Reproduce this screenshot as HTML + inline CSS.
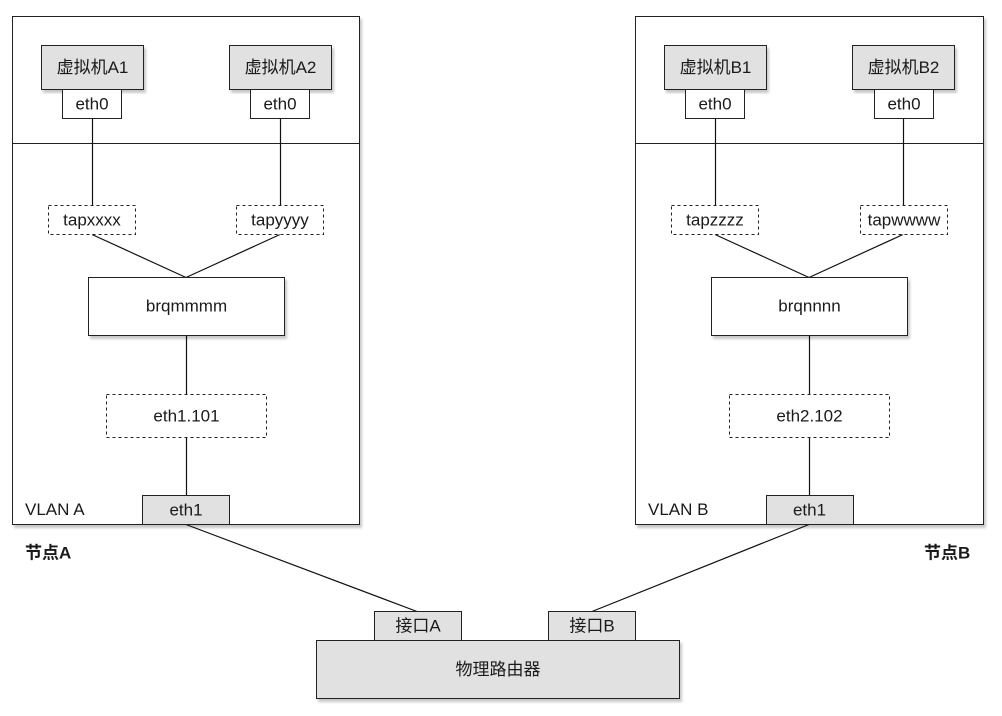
<!DOCTYPE html>
<html>
<head>
<meta charset="utf-8">
<style>
  html,body{margin:0;padding:0;background:#fff;}
  svg{display:block;}
  text{font-family:"Liberation Sans","Noto Sans CJK SC",sans-serif;font-size:17px;fill:#1a1a1a;}
  .b{font-weight:bold;}
</style>
</head>
<body>
<svg width="1002" height="716" viewBox="0 0 1002 716" xmlns="http://www.w3.org/2000/svg">
  <defs>
    <filter id="sh" x="-5%" y="-5%" width="115%" height="115%">
      <feGaussianBlur in="SourceAlpha" stdDeviation="1.2"/>
      <feOffset dx="2" dy="3" result="o"/>
      <feComponentTransfer><feFuncA type="linear" slope="0.22"/></feComponentTransfer>
      <feMerge><feMergeNode/><feMergeNode in="SourceGraphic"/></feMerge>
    </filter>
  </defs>

  <!-- Left panel -->
  <rect x="12.5" y="16.5" width="347" height="508" fill="#fff" stroke="#222" stroke-width="1" filter="url(#sh)"/>
  <line x1="12.5" y1="143.5" x2="359.5" y2="143.5" stroke="#222"/>

  <!-- Right panel -->
  <rect x="635.5" y="16.5" width="348" height="508" fill="#fff" stroke="#222" stroke-width="1" filter="url(#sh)"/>
  <line x1="635.5" y1="143.5" x2="983.5" y2="143.5" stroke="#222"/>

  <!-- Connectors -->
  <g stroke="#111" stroke-width="1.2" fill="none">
    <line x1="92.5" y1="118" x2="92.5" y2="205"/>
    <line x1="280.5" y1="118" x2="280.5" y2="205"/>
    <line x1="92" y1="234.5" x2="186" y2="277.5"/>
    <line x1="280" y1="234.5" x2="186" y2="277.5"/>
    <line x1="186.5" y1="335" x2="186.5" y2="394"/>
    <line x1="186.5" y1="438" x2="186.5" y2="495"/>
    <line x1="186" y1="524.5" x2="417" y2="611.5"/>
    <line x1="715.5" y1="118" x2="715.5" y2="205"/>
    <line x1="903.5" y1="118" x2="903.5" y2="205"/>
    <line x1="715" y1="234.5" x2="809" y2="277.5"/>
    <line x1="903" y1="234.5" x2="809" y2="277.5"/>
    <line x1="809.5" y1="335" x2="809.5" y2="394"/>
    <line x1="809.5" y1="438" x2="809.5" y2="495"/>
    <line x1="809" y1="524.5" x2="592" y2="611.5"/>
  </g>

  <!-- Left VMs -->
  <rect x="41.5" y="45.5" width="102" height="44" fill="#e1e1e1" stroke="#222" filter="url(#sh)"/>
  <text x="92.5" y="67.5" text-anchor="middle" dominant-baseline="central">虚拟机A1</text>
  <rect x="62.5" y="89.5" width="59" height="29" fill="#fff" stroke="#222"/>
  <text x="92" y="104" text-anchor="middle" dominant-baseline="central">eth0</text>

  <rect x="229.5" y="45.5" width="102" height="44" fill="#e1e1e1" stroke="#222" filter="url(#sh)"/>
  <text x="280.5" y="67.5" text-anchor="middle" dominant-baseline="central">虚拟机A2</text>
  <rect x="250.5" y="89.5" width="59" height="29" fill="#fff" stroke="#222"/>
  <text x="280" y="104" text-anchor="middle" dominant-baseline="central">eth0</text>

  <rect x="48.5" y="205.5" width="87" height="29" fill="#fff" stroke="#222" stroke-dasharray="3 3"/>
  <text x="92" y="220" text-anchor="middle" dominant-baseline="central">tapxxxx</text>
  <rect x="236.5" y="205.5" width="87" height="29" fill="#fff" stroke="#222" stroke-dasharray="3 3"/>
  <text x="280" y="220" text-anchor="middle" dominant-baseline="central">tapyyyy</text>

  <rect x="88.5" y="277.5" width="196" height="58" fill="#fff" stroke="#222" filter="url(#sh)"/>
  <text x="186.5" y="306" text-anchor="middle" dominant-baseline="central">brqmmmm</text>

  <rect x="106.5" y="394.5" width="160" height="43" fill="#fff" stroke="#222" stroke-dasharray="3 3"/>
  <text x="186.5" y="416" text-anchor="middle" dominant-baseline="central">eth1.101</text>

  <rect x="142.5" y="495.5" width="87" height="29" fill="#e1e1e1" stroke="#222"/>
  <text x="186" y="510" text-anchor="middle" dominant-baseline="central">eth1</text>

  <text x="25" y="509.5" dominant-baseline="central">VLAN A</text>
  <text x="25" y="553" dominant-baseline="central" class="b">节点A</text>

  <!-- Right VMs -->
  <rect x="664.5" y="45.5" width="102" height="44" fill="#e1e1e1" stroke="#222" filter="url(#sh)"/>
  <text x="715.5" y="67.5" text-anchor="middle" dominant-baseline="central">虚拟机B1</text>
  <rect x="685.5" y="89.5" width="59" height="29" fill="#fff" stroke="#222"/>
  <text x="715" y="104" text-anchor="middle" dominant-baseline="central">eth0</text>

  <rect x="852.5" y="45.5" width="102" height="44" fill="#e1e1e1" stroke="#222" filter="url(#sh)"/>
  <text x="903.5" y="67.5" text-anchor="middle" dominant-baseline="central">虚拟机B2</text>
  <rect x="874.5" y="89.5" width="59" height="29" fill="#fff" stroke="#222"/>
  <text x="904" y="104" text-anchor="middle" dominant-baseline="central">eth0</text>

  <rect x="671.5" y="205.5" width="87" height="29" fill="#fff" stroke="#222" stroke-dasharray="3 3"/>
  <text x="715" y="220" text-anchor="middle" dominant-baseline="central">tapzzzz</text>
  <rect x="860.5" y="205.5" width="87" height="29" fill="#fff" stroke="#222" stroke-dasharray="3 3"/>
  <text x="904" y="220" text-anchor="middle" dominant-baseline="central">tapwwww</text>

  <rect x="711.5" y="277.5" width="196" height="58" fill="#fff" stroke="#222" filter="url(#sh)"/>
  <text x="809.5" y="306" text-anchor="middle" dominant-baseline="central">brqnnnn</text>

  <rect x="729.5" y="394.5" width="160" height="43" fill="#fff" stroke="#222" stroke-dasharray="3 3"/>
  <text x="809.5" y="416" text-anchor="middle" dominant-baseline="central">eth2.102</text>

  <rect x="766.5" y="495.5" width="87" height="29" fill="#e1e1e1" stroke="#222"/>
  <text x="809.5" y="510" text-anchor="middle" dominant-baseline="central">eth1</text>

  <text x="648" y="509.5" dominant-baseline="central">VLAN B</text>
  <text x="924" y="553" dominant-baseline="central" class="b">节点B</text>

  <!-- Router -->
  <rect x="374.5" y="611.5" width="87" height="29" fill="#e1e1e1" stroke="#222"/>
  <text x="418" y="626" text-anchor="middle" dominant-baseline="central">接口A</text>
  <rect x="548.5" y="611.5" width="87" height="29" fill="#e1e1e1" stroke="#222"/>
  <text x="592" y="626" text-anchor="middle" dominant-baseline="central">接口B</text>

  <rect x="316.5" y="640.5" width="363" height="58" fill="#e1e1e1" stroke="#222" filter="url(#sh)"/>
  <text x="498" y="669.5" text-anchor="middle" dominant-baseline="central">物理路由器</text>
</svg>
</body>
</html>
